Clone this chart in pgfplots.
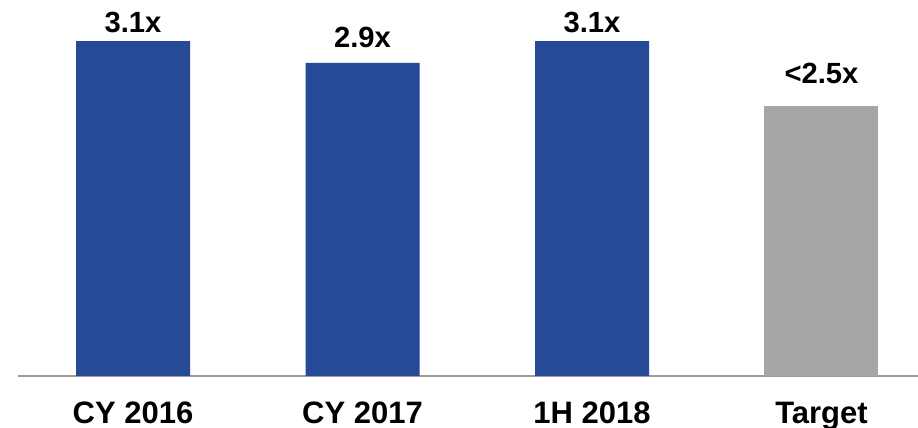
\documentclass[border=0pt]{standalone}
\usepackage{pgfplots}
\pgfplotsset{compat=1.18}
\usepackage{pgfplotstable}
\usepackage{fontspec}
\setmainfont{Liberation Sans}
\definecolor{barblue}{HTML}{264A96}
\definecolor{bargray}{HTML}{A6A6A6}
\definecolor{linegray}{HTML}{9C9C9C}
\pgfplotstableread{
x val off lab
0 3.1 4.2 3.1x
1 2.9 7.5 2.9x
2 3.1 4.2 3.1x
}\bluedata
\pgfplotstableread{
x val off lab
3 2.5 11 {<2.5x}
}\graydata
\begin{document}
\begin{tikzpicture}
\begin{axis}[
  name=ax,
  scale only axis,
  width=450pt, height=188pt,
  xmin=-0.5011, xmax=3.4205,
  ymin=0, ymax=3.4815,
  axis x line=bottom, axis y line=none,
  axis line style={-, draw=linegray, line width=1pt},
  xtick={0,1,2,3},
  xticklabels={CY 2016, CY 2017, 1H 2018, Target},
  major tick length=0pt,
  xticklabel style={anchor=base, inner sep=0pt, yshift=-23.8pt,
    font=\bfseries\fontsize{15.5}{18}\selectfont},
  ytick=\empty,
  clip=false,
  ybar, bar width=57pt, bar shift=0pt,
  nodes near coords,
  point meta=explicit symbolic,
  visualization depends on={\thisrow{off} \as \off},
  every node near coord/.append style={anchor=base, inner sep=0pt,
    yshift=\off pt, font=\bfseries\fontsize{14.6}{17}\selectfont, text=black},
]
\addplot[fill=barblue, draw=none] table[x=x, y=val, meta=lab] {\bluedata};
\addplot[fill=bargray, draw=none] table[x=x, y=val, meta=lab] {\graydata};
\end{axis}
\pgfresetboundingbox
\path[use as bounding box] ([xshift=-9pt, yshift=-26pt]ax.south west) rectangle (ax.north east);
\end{tikzpicture}
\end{document}
